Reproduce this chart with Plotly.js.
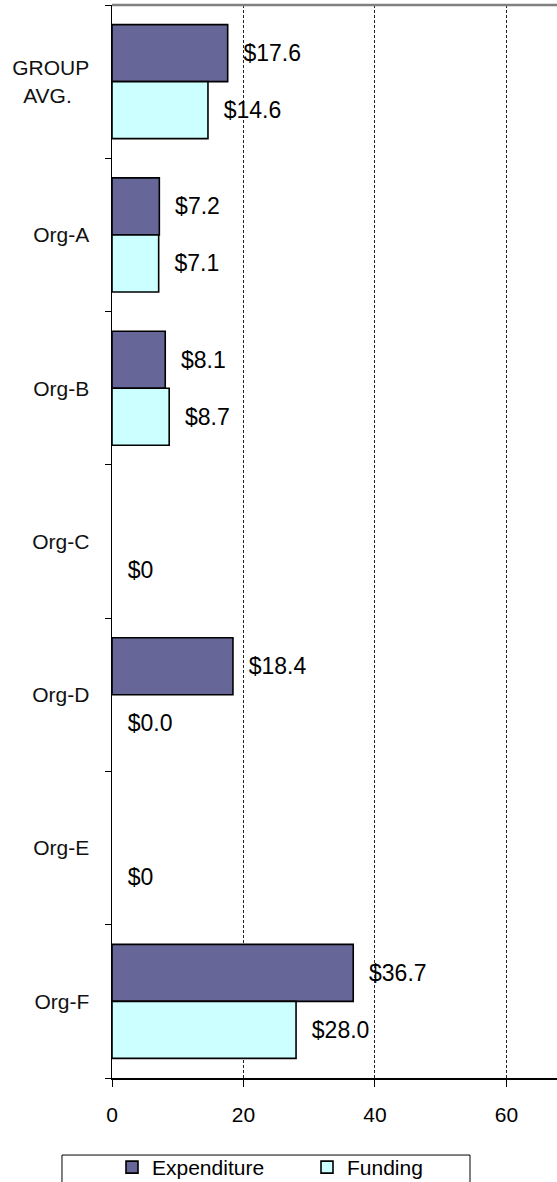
<!DOCTYPE html>
<html>
<head>
<meta charset="utf-8">
<script src="https://cdn.plot.ly/plotly-3.0.1.min.js"></script>
<style>
html,body{margin:0;padding:0;background:#fff;overflow:hidden;}
#chart{width:557px;height:1182px;}
</style>
</head>
<body>
<div id="chart"></div>
<script>
const categories = ['GROUP AVG.', 'Org-A', 'Org-B', 'Org-C', 'Org-D', 'Org-E', 'Org-F'];
const categoryLabels = ['GROUP<br>AVG.\u00a0\u00a0\u00a0', 'Org-A', 'Org-B', 'Org-C', 'Org-D', 'Org-E', 'Org-F'];
const expenditure = [17.6, 7.2, 8.1, null, 18.4, null, 36.7];
const funding = [14.6, 7.1, 8.7, 0, 0.0, 0, 28.0];
const expenditureLabels = ['$17.6', '$7.2', '$8.1', '', '$18.4', '', '$36.7'];
const fundingLabels = ['$14.6', '$7.1', '$8.7', '$0', '$0.0', '$0', '$28.0'];
const xTicks = [0, 20, 40, 60];

const FONT = '"Liberation Sans", Arial, sans-serif';
const pad = s => s ? '\u00a0\u00a0' + s : '';
const outline = arr => arr.map(v => (v ? 1.6 : 0));

const traces = [
  {
    type: 'bar', orientation: 'h', name: 'Expenditure',
    y: categories, x: expenditure,
    text: expenditureLabels.map(pad), textposition: 'outside',
    textfont: {family: FONT, size: 23, color: '#000'},
    constraintext: 'none', cliponaxis: false,
    marker: {color: '#666699', line: {color: '#000', width: outline(expenditure)}},
    hoverinfo: 'skip'
  },
  {
    type: 'bar', orientation: 'h', name: 'Funding',
    y: categories, x: funding,
    text: fundingLabels.map(pad), textposition: 'outside',
    textfont: {family: FONT, size: 23, color: '#000'},
    constraintext: 'none', cliponaxis: false,
    marker: {color: '#CCFFFF', line: {color: '#000', width: outline(funding)}},
    hoverinfo: 'skip'
  }
];

const layout = {
  width: 557, height: 1182,
  margin: {l: 112, r: 0, t: 5, b: 104, autoexpand: false},
  paper_bgcolor: '#fff', plot_bgcolor: '#fff',
  font: {family: FONT, size: 21, color: '#000'},
  barmode: 'group', bargap: 0.256, bargroupgap: 0,
  xaxis: {
    range: [0, 67.7], tickvals: xTicks, ticktext: xTicks.map(String),
    ticks: 'outside', ticklen: 7, tickwidth: 1, tickcolor: '#000',
    showline: true, linecolor: '#000', linewidth: 1.5,
    showgrid: true, gridcolor: '#222', gridwidth: 1, griddash: '3px,2px',
    zeroline: false, ticklabelstandoff: 10, automargin: false,
    tickfont: {family: FONT, size: 21, color: '#000'},
    fixedrange: true
  },
  yaxis: {
    type: 'category', autorange: 'reversed',
    tickvals: categories, ticktext: categoryLabels,
    tickson: 'boundaries', ticks: 'outside', ticklen: 6, tickwidth: 1, tickcolor: '#000',
    showline: true, linecolor: '#000', linewidth: 1.5,
    showgrid: false, zeroline: false, ticklabelstandoff: 17, automargin: false,
    tickfont: {family: FONT, size: 21, color: '#111'},
    fixedrange: true
  },
  showlegend: true,
  legend: {
    orientation: 'h', x: 0.0, xanchor: 'left', y: -0.0643, yanchor: 'top',
    borderwidth: 0, bgcolor: 'rgba(0,0,0,0)',
    font: {family: FONT, size: 21, color: '#000'},
    entrywidth: 150, traceorder: 'normal'
  },
  shapes: [
    {type: 'line', xref: 'paper', yref: 'paper', x0: 0, x1: 1, y0: 1, y1: 1,
     line: {color: '#808080', width: 2.5}},
    {type: 'rect', xref: 'paper', yref: 'paper',
     x0: -0.1124, x1: 0.8045, y0: -0.0718, y1: -0.11,
     line: {color: '#000', width: 1}, fillcolor: 'rgba(0,0,0,0)'}
  ]
};

Plotly.newPlot('chart', traces, layout, {displayModeBar: false, staticPlot: true});
</script>
</body>
</html>
